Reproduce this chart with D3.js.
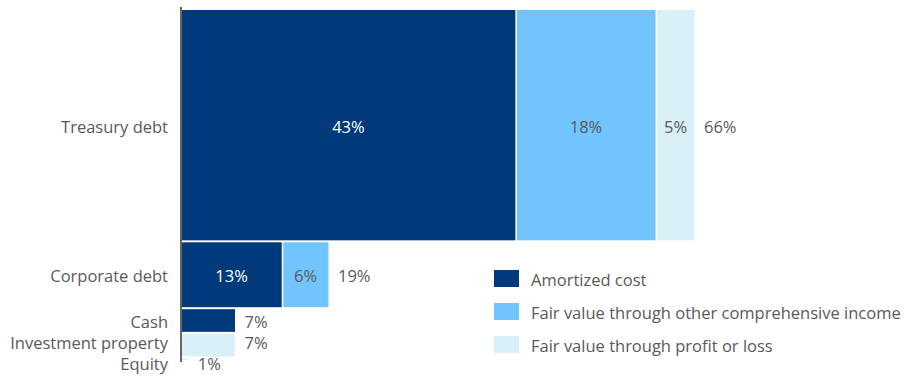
<!DOCTYPE html>
<html>
<head>
<meta charset="utf-8">
<script src="https://cdn.jsdelivr.net/npm/d3@7"></script>
<style>
  html, body { margin: 0; padding: 0; background: #fff; }
  svg { display: block; }
  text { font-family: "Open Sans", "Lato", sans-serif; }
</style>
</head>
<body>
<svg id="chart" width="904" height="376"></svg>
<script>
// Share of the investment portfolio by asset class and accounting category (%)
const categories = ["Treasury debt", "Corporate debt", "Cash", "Investment property", "Equity"];
const seriesNames = [
  "Amortized cost",
  "Fair value through other comprehensive income",
  "Fair value through profit or loss"
];
const amortizedCost = [43, 13, 7, 0, 0];
const fairValueOCI  = [18, 6, 0, 0, 0];
const fairValuePL   = [5, 0, 0, 7, 1];

const colors = ["#003a7a", "#72c4ff", "#daf0f9"];
const labelColors = ["#ffffff", "#595959", "#595959"];
const textColor = "#595959";
const fontSize = 16.5;
const baselineShift = "0.45em";
const minLabelGap = 21;
const maxLabelY = 363;

const seriesValues = [amortizedCost, fairValueOCI, fairValuePL];

// Build rows: each category gets a row whose height is its total share
// and whose segments have widths equal to their shares.
let cum = 0;
const rows = categories.map((name, i) => {
  const vals = seriesValues.map(s => s[i]);
  const total = d3.sum(vals);
  let start = 0;
  const segs = vals.map((v, k) => {
    const seg = { key: k, value: v, x0: start, x1: start + v };
    start += v;
    return seg;
  }).filter(s => s.value > 0);
  const row = { name, total, y0: cum, y1: cum + total, segs };
  cum += total;
  return row;
});

const svg = d3.select("#chart");
const axisX = 181;

const x = d3.scaleLinear().domain([0, d3.max(rows, r => r.total)]).range([axisX, 695]);
const y = d3.scaleLinear().domain([0, cum]).range([9, 361]);

const fmt = v => v + "%";

// Segments
const g = svg.append("g");
rows.forEach(r => {
  const top = y(r.y0) + 1, bottom = y(r.y1) - 1;
  const rg = g.append("g");
  rg.selectAll("rect")
    .data(r.segs)
    .join("rect")
    .attr("x", d => x(d.x0) + 1)
    .attr("y", top)
    .attr("width", d => Math.max(0, x(d.x1) - x(d.x0) - 1.5))
    .attr("height", Math.max(0, bottom - top))
    .attr("fill", d => colors[d.key]);

  if (r.segs.length > 1) {
    rg.selectAll("text.inside")
      .data(r.segs)
      .join("text")
      .attr("class", "inside")
      .attr("x", d => (x(d.x0) + x(d.x1)) / 2)
      .attr("y", (top + bottom) / 2)
      .attr("dy", baselineShift)
      .attr("text-anchor", "middle")
      .attr("font-size", fontSize)
      .attr("fill", d => labelColors[d.key])
      .text(d => fmt(d.value));
  }
});

// Label positions: start at the row centre, push down past the previous label,
// then pull back up so the last label stays inside the chart.
let prev = -Infinity;
rows.forEach(r => {
  const c = (y(r.y0) + y(r.y1)) / 2;
  r.ly = Math.max(c, prev + minLabelGap);
  prev = r.ly;
});
let next = maxLabelY + minLabelGap;
for (let i = rows.length - 1; i >= 0; i--) {
  rows[i].ly = Math.min(rows[i].ly, next - minLabelGap);
  next = rows[i].ly;
}

// Category labels
svg.append("g").selectAll("text")
  .data(rows)
  .join("text")
  .attr("x", 168)
  .attr("y", d => d.ly)
  .attr("dy", baselineShift)
  .attr("text-anchor", "end")
  .attr("font-size", fontSize)
  .attr("fill", textColor)
  .text(d => d.name);

// Total labels
svg.append("g").selectAll("text")
  .data(rows)
  .join("text")
  .attr("x", d => x(d.total) + 9)
  .attr("y", d => d.ly)
  .attr("dy", baselineShift)
  .attr("font-size", fontSize)
  .attr("fill", textColor)
  .text(d => fmt(d.total));

// Vertical axis line
svg.append("line")
  .attr("x1", axisX).attr("x2", axisX)
  .attr("y1", 7).attr("y2", 362)
  .attr("stroke", "#666")
  .attr("stroke-width", 2);

// Legend
const legend = svg.append("g").attr("transform", "translate(494,270)");
const items = legend.selectAll("g")
  .data(seriesNames)
  .join("g")
  .attr("transform", (d, i) => `translate(0,${i * 33})`);
items.append("rect")
  .attr("width", 25).attr("height", 17)
  .attr("fill", (d, i) => colors[i]);
items.append("text")
  .attr("x", 37).attr("y", 8.5)
  .attr("dy", baselineShift)
  .attr("font-size", fontSize)
  .attr("fill", textColor)
  .text(d => d);
</script>
</body>
</html>
